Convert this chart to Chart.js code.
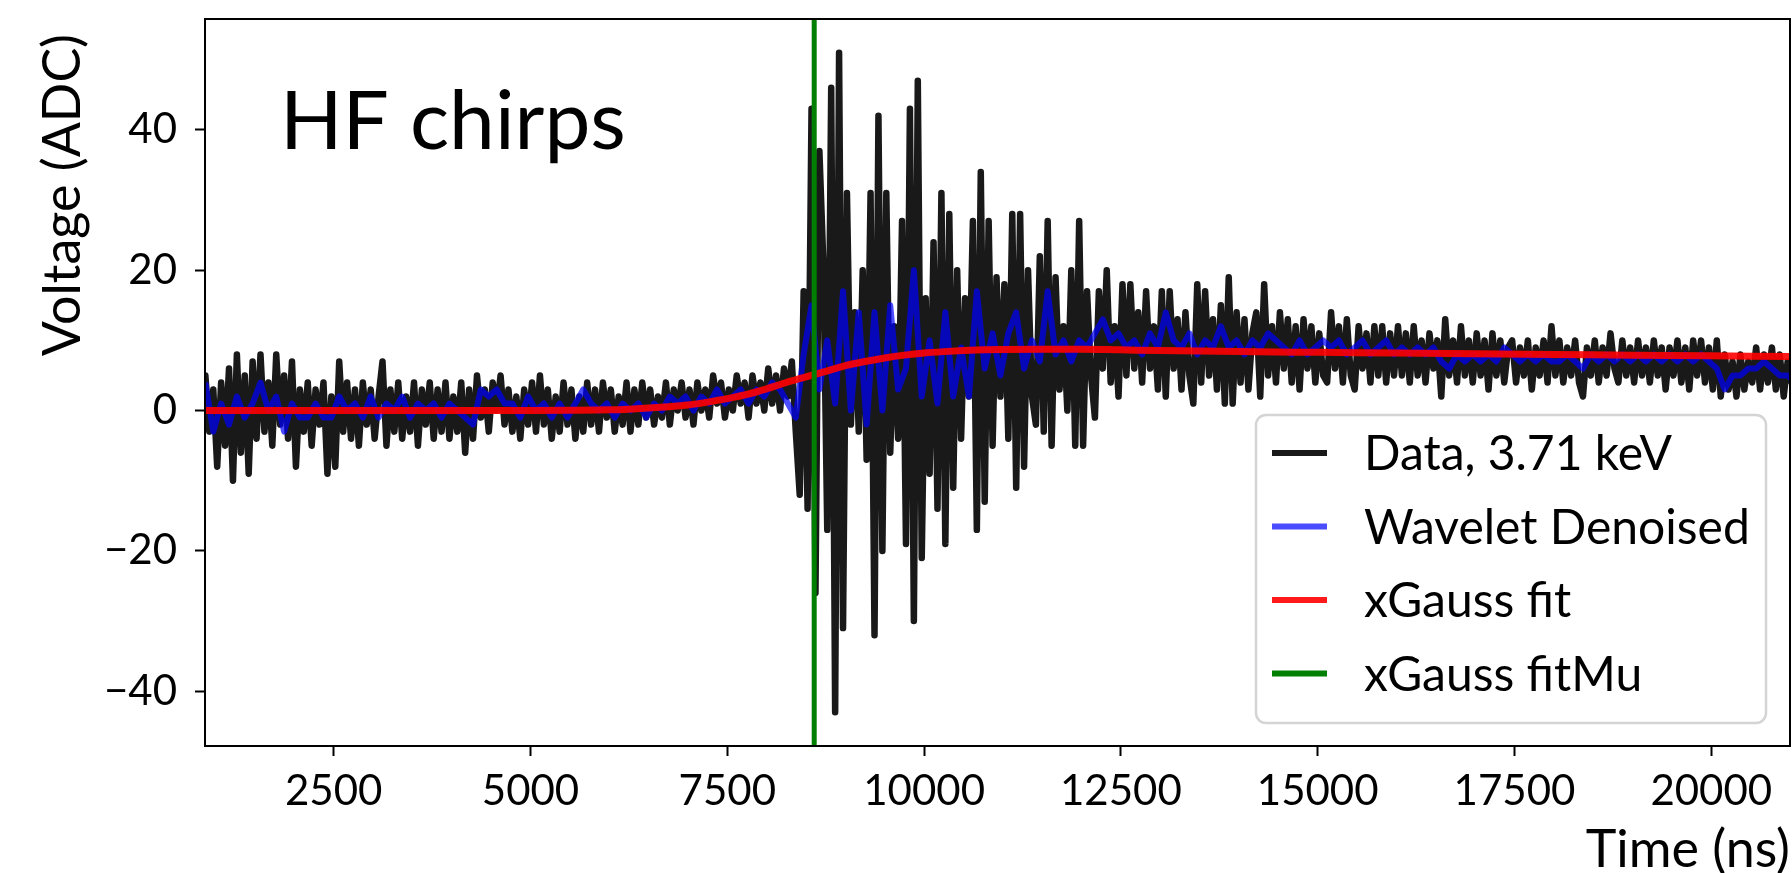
<!DOCTYPE html>
<html>
<head>
<meta charset="utf-8">
<script src="https://cdn.jsdelivr.net/npm/chart.js@4.4.1/dist/chart.umd.min.js"></script>
<style>
  html, body { margin: 0; padding: 0; background: #fff; }
  canvas { display: block; }
</style>
</head>
<body>
<canvas id="chirps" width="1792" height="873"></canvas>
<script>
// raw trace, sampled every 50 ns from 870 ns
const dataStart = 870;
const dataStep = 50;
const dataValues = [
  5,-3,3,-8,4,-5,6,-10,8,-6,5,-9,7,-4,8,-3,4,-5,8,-2,
  5,-4,7,-8,3,-3,4,-5,3,-2,4,-9,2,-8,7,-3,4,-4,3,-5,
  4,-2,3,-4,2,7,-5,3,-3,4,-4,2,-3,4,-5,3,-2,4,-4,3,
  -3,4,-4,2,-3,4,-6,3,-4,5,-1,3,-3,4,0,5,-2,3,-3,2,
  -4,3,-2,4,-3,5,-2,3,-4,2,-3,4,-2,3,-4,2,-3,4,-2,3,
  -3,4,-1,3,-3,2,-2,4,-3,3,-2,4,-1,3,-2,2,-1,4,-2,3,
  0,4,-1,3,-2,4,0,3,-1,5,1,4,-1,3,0,5,1,4,-1,5,
  1,4,0,6,1,5,0,6,2,7,
  -3,-12,17,-14,43,-26,37,21,-17,46,-43,51,-31,31,
  -2,14,-3,20,-7,31,-32,42,-20,31,-6,12,-4,27,-19,43,-30,47,-21,16,
  -9,24,-14,31,-19,28,-11,20,-4,16,2,27,-17,34,-13,27,-5,19,2,18,
  -4,28,-11,28,-8,20,2,-2,22,-3,27,-5,19,3,12,0,20,-5,27,-5,
  17,5,-1,17,6,20,4,12,2,18,5,18,6,14,4,17,6,12,3,17,
  2,17,6,13,3,14,5,1,18,4,17,5,13,3,15,1,19,1,14,4,
  13,3,11,14,2,18,5,12,4,14,6,13,4,12,3,13,6,12,4,11,
  5,4,14,6,12,4,13,5,3,12,6,11,4,12,5,12,4,11,5,12,
  5,11,4,12,5,10,4,11,6,10,2,13,5,10,4,12,5,10,4,11,
  5,10,3,11,5,10,4,9,10,4,9,5,10,3,9,5,10,4,12,5,
  10,4,9,5,10,4,2,9,5,10,4,9,5,11,6,4,10,5,9,4,
  10,5,9,4,10,5,9,3,9,5,10,4,9,3,10,5,10,4,9,3,
  10,2,8,3,7,2,8,3,7,4,9,3,8,4,9,3,8,2,7,4
];

// wavelet denoised trace, every 100 ns from 870 ns
const waveStart = 870;
const waveStep = 100;
const waveValues = [
  4,-3,1,-2,2,-1,1,4,0,2,-3,1,-1,-1,1,-1,-1,2,0,1,
  -1,2,-1,1,0,2,-1,1,0,1,-1,1,0,-1,-2,3,2,3,1,1,
  -1,2,0,1,-1,1,-1,1,3,1,0,1,-1,1,0,1,-1,1,0,2,
  1,2,0,2,1,3,1,2,3,1,3,2,4,3,1,-1,8,15,3,10,
  1,17,0,14,-2,14,0,15,3,6,20,2,10,1,14,2,9,2,17,6,
  11,5,11,14,6,10,7,17,8,10,7,10,9,11,13,10,11,9,10,8,
  11,9,14,10,9,11,8,10,9,12,9,10,8,10,9,11,10,9,8,10,
  8,9,10,9,10,8,9,10,8,9,10,8,9,8,9,8,9,7,6,8,
  7,8,7,8,7,9,8,7,8,7,8,7,7,8,7,6,8,7,8,7,
  8,7,8,7,8,7,8,7,8,7,8,7,6,3,5,5,6,6,7,6,
  5,5,4
];

// xGauss fit curve
const fitTimes = [870, 5000, 5500, 6000, 6250, 6500, 6750, 7000, 7250, 7500, 7750, 8000, 8250, 8500, 8750,
  9000, 9250, 9500, 9750, 10000, 10250, 10500, 10750, 11000, 11500, 12000, 12500, 13000,
  14000, 15000, 16000, 17000, 18000, 19000, 20000, 21000];
const fitValues = [0, 0, 0.03, 0.1, 0.2, 0.35, 0.55, 0.8, 1.2, 1.7, 2.3, 3.1, 4.0, 4.8, 5.6,
  6.4, 7.0, 7.5, 7.9, 8.2, 8.4, 8.55, 8.65, 8.7, 8.75, 8.75, 8.65, 8.55,
  8.4, 8.3, 8.2, 8.1, 8.0, 7.9, 7.8, 7.7];

const fitMu = 8604;

const xMin = 865, xMax = 21000;
const yMin = -47.8, yMax = 55.8;
const xTicks = [2500, 5000, 7500, 10000, 12500, 15000, 17500, 20000];
const yTicks = [-40, -20, 0, 20, 40];

const seriesLabels = ['Data, 3.71 keV', 'Wavelet Denoised', 'xGauss fit', 'xGauss fitMu'];

const FONT = 'Lato';

const decorations = {
  id: 'decorations',
  afterDraw(chart) {
    const { ctx, chartArea: a } = chart;
    ctx.save();
    ctx.strokeStyle = '#000';
    ctx.lineWidth = 2;
    ctx.strokeRect(a.left, a.top, a.right - a.left, a.bottom - a.top);

    ctx.fillStyle = '#000';
    ctx.textBaseline = 'alphabetic';
    ctx.font = `82px ${FONT}`;
    ctx.textAlign = 'left';
    ctx.fillText('HF chirps', 280, 149);

    ctx.font = `52px ${FONT}`;
    ctx.textAlign = 'right';
    ctx.fillText('Time (ns)', 1790, 867);

    ctx.save();
    ctx.translate(80, 34);
    ctx.rotate(-Math.PI / 2);
    ctx.textAlign = 'right';
    ctx.fillText('Voltage (ADC)', 0, 0);
    ctx.restore();

    // legend box, lower right inside the axes
    const bx = 1256, by = 415, bw = 510, bh = 308;
    ctx.beginPath();
    ctx.roundRect(bx, by, bw, bh, 10);
    ctx.fillStyle = 'rgba(255,255,255,0.8)';
    ctx.fill();
    ctx.strokeStyle = '#d4d4d4';
    ctx.lineWidth = 2.5;
    ctx.stroke();

    ctx.font = `48px ${FONT}`;
    ctx.textAlign = 'left';
    ctx.textBaseline = 'middle';
    chart.data.datasets.forEach((ds, k) => {
      const y = 453 + k * 73.5;
      ctx.beginPath();
      ctx.moveTo(1272, y);
      ctx.lineTo(1327, y);
      ctx.strokeStyle = ds.borderColor;
      ctx.lineWidth = 6;
      ctx.lineCap = 'butt';
      ctx.stroke();
      ctx.fillStyle = '#000';
      ctx.fillText(ds.label, 1364, y + 2);
    });
    ctx.restore();
  }
};

function build() {
  const ctx = document.getElementById('chirps').getContext('2d');
  new Chart(ctx, {
    type: 'line',
    data: {
      datasets: [
        {
          label: seriesLabels[0],
          data: dataValues.map((v, i) => ({ x: dataStart + i * dataStep, y: v })),
          borderColor: 'rgba(0,0,0,0.9)',
          borderWidth: 6.5,
          borderJoinStyle: 'round',
          borderCapStyle: 'round',
          pointRadius: 0,
          tension: 0,
          order: 4
        },
        {
          label: seriesLabels[1],
          data: waveValues.map((v, i) => ({ x: waveStart + i * waveStep, y: v })),
          borderColor: 'rgba(0,0,255,0.7)',
          borderWidth: 6,
          borderJoinStyle: 'round',
          pointRadius: 0,
          tension: 0,
          order: 3
        },
        {
          label: seriesLabels[2],
          data: fitTimes.map((t, i) => ({ x: t, y: fitValues[i] })),
          borderColor: 'rgba(255,0,0,0.9)',
          borderWidth: 7,
          pointRadius: 0,
          cubicInterpolationMode: 'monotone',
          order: 2
        },
        {
          label: seriesLabels[3],
          data: [{ x: fitMu, y: yMin }, { x: fitMu, y: yMax }],
          borderColor: '#008000',
          borderWidth: 5,
          pointRadius: 0,
          order: 1
        }
      ]
    },
    options: {
      responsive: false,
      animation: false,
      devicePixelRatio: 1,
      layout: { padding: { left: 0, right: 2, top: 19, bottom: 0 } },
      plugins: { legend: { display: false }, tooltip: { enabled: false } },
      scales: {
        x: {
          type: 'linear',
          min: xMin,
          max: xMax,
          afterBuildTicks: s => { s.ticks = xTicks.map(v => ({ value: v })); },
          afterFit: s => { s.height = 127; s.paddingLeft = 0; s.paddingRight = 0; },
          grid: { drawOnChartArea: false, drawTicks: true, tickLength: 10, tickWidth: 2, tickColor: '#000' },
          border: { display: true, color: '#000', width: 2 },
          ticks: {
            font: { family: FONT, size: 42 }, color: '#000', padding: 10, maxRotation: 0,
            callback: v => String(v)
          }
        },
        y: {
          type: 'linear',
          min: yMin,
          max: yMax,
          afterBuildTicks: s => { s.ticks = yTicks.map(v => ({ value: v })); },
          afterFit: s => { s.width = 205; s.paddingTop = 0; s.paddingBottom = 0; },
          grid: { drawOnChartArea: false, drawTicks: true, tickLength: 10, tickWidth: 2, tickColor: '#000' },
          border: { display: true, color: '#000', width: 2 },
          ticks: {
            font: { family: FONT, size: 42 }, color: '#000', padding: 18,
            callback: v => v < 0 ? '\u2212' + Math.abs(v) : String(v)
          }
        }
      }
    },
    plugins: [decorations]
  });
}

document.fonts.load(`42px ${FONT}`).then(build, build);
</script>
</body>
</html>
